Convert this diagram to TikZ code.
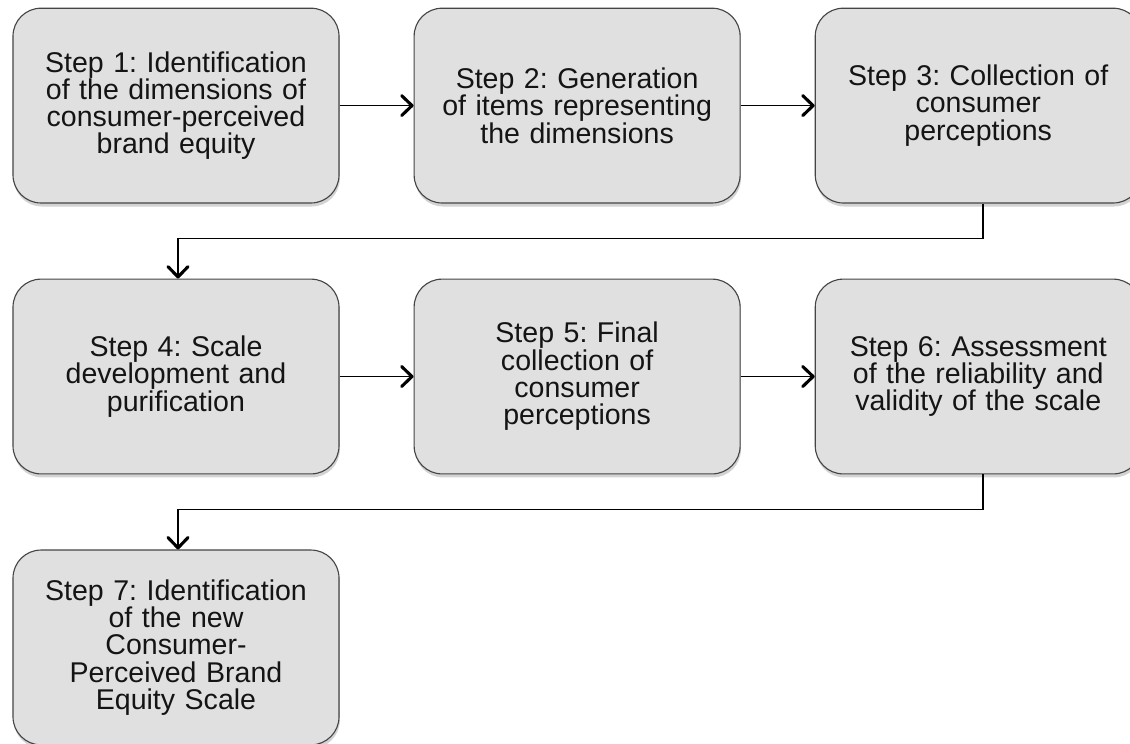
\documentclass[tikz,border=0pt]{standalone}
\usepackage{fontspec}
\setmainfont{Liberation Sans}
\usetikzlibrary{arrows.meta,positioning,shadows}
\definecolor{boxfill}{HTML}{E0E0E0}
\definecolor{boxline}{HTML}{454545}
\definecolor{ink}{HTML}{141414}
\begin{document}
\frenchspacing
\begin{tikzpicture}[node distance=1.85cm]
      \tikzset{box/.style={draw=boxline,line width=0.8pt,rounded corners=0.7cm,align=center,text width=7.9cm,minimum width=8.15cm,minimum height=4.87cm,fill=boxfill,text=ink,font=\fontsize{20.3}{19.4}\selectfont,drop shadow={shadow xshift=0.6pt,shadow yshift=-2.5pt,opacity=0.35,fill=gray}},
        flow/.style={line width=0.8pt,-{Straight Barb[length=2.6mm,width=5mm,line width=2.2pt,round]}}}
      \useasboundingbox (0,0) rectangle (28.25,-18.6);
      \node[box] (s1) at (4.4,-2.64) {Step 1: Identification\\of the dimensions of\\consumer-perceived\\brand equity};\node[box,right=of s1] (s2) {Step 2: Generation\\of items representing\\the dimensions};\node[box,right=of s2] (s3) {Step 3: Collection of\\consumer\\perceptions};
      \node[box,below=1.875cm of s1] (s4) {Step 4: Scale\\development and\\purification};\node[box,right=of s4] (s5) {Step 5: Final\\collection of\\consumer\\perceptions};\node[box,right=of s5] (s6) {Step 6: Assessment\\of the reliability and\\validity of the scale};
      \node[box,below=1.875cm of s4] (s7) {Step 7: Identification\\of the new\\Consumer-\\Perceived Brand\\Equity Scale};
      \foreach \a/\b in {s1/s2,s2/s3,s4/s5,s5/s6}{\draw[flow] (\a)--(\b);}
      \draw[flow] ([xshift=0.12cm]s3.south) -- ++(0,-0.875) -| ([xshift=0.05cm]s4.north);
      \draw[flow] ([xshift=0.12cm]s6.south) -- ++(0,-0.875) -| ([xshift=0.05cm]s7.north);
    \end{tikzpicture}
\end{document}
